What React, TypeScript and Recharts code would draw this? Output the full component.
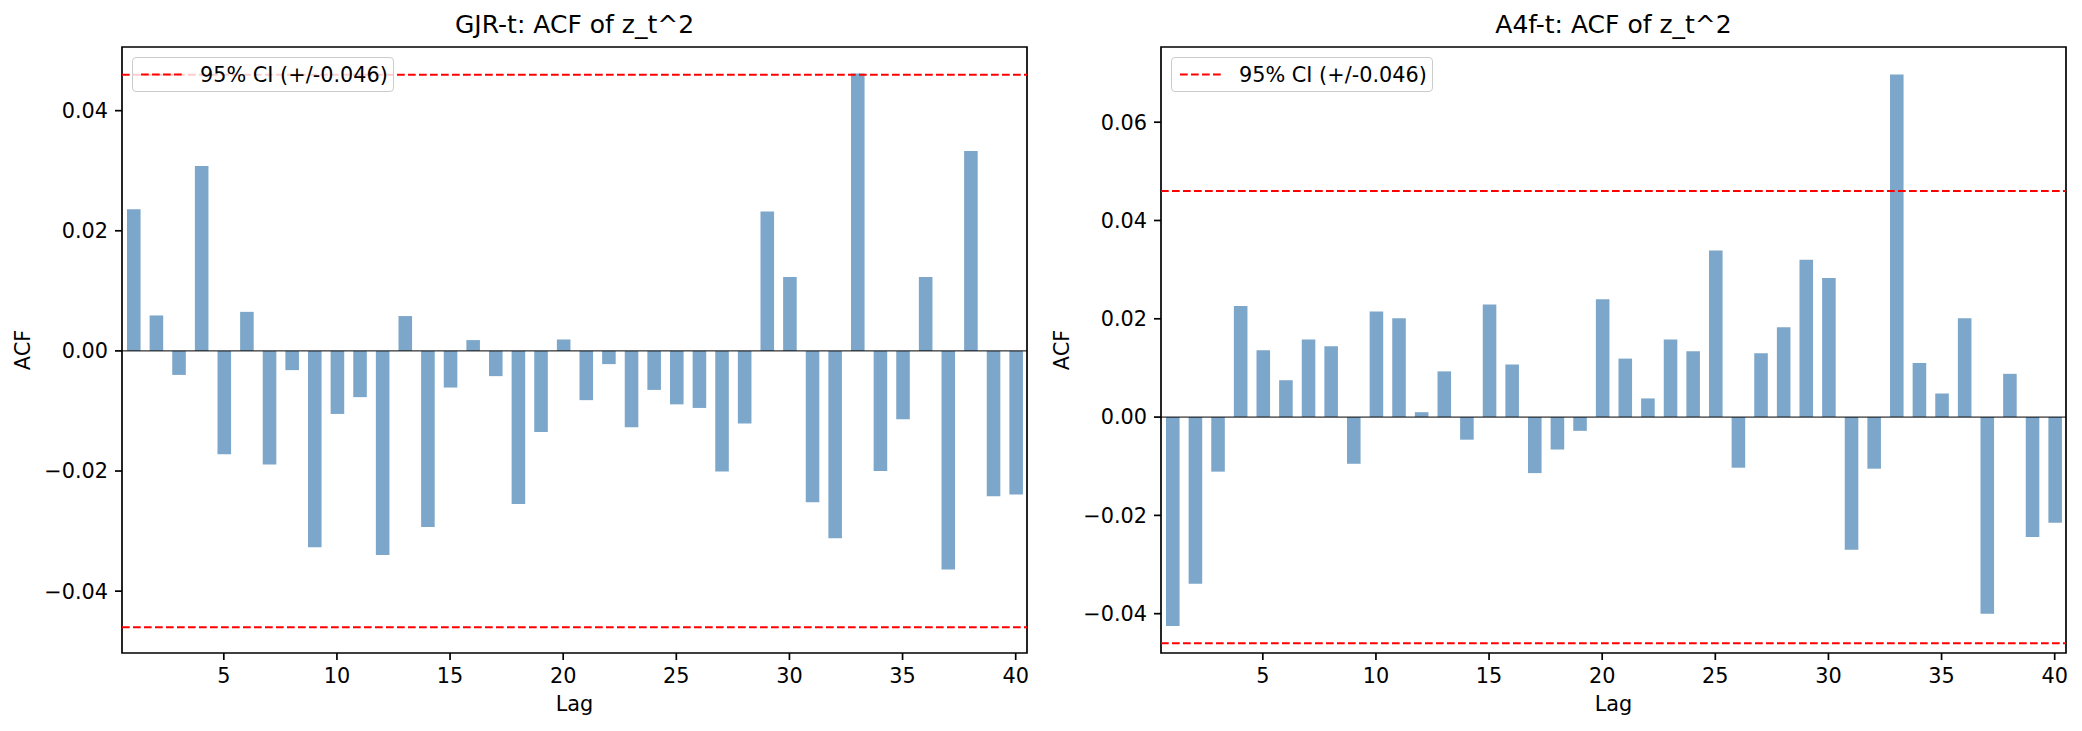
import React from "react";
import { BarChart, Bar, XAxis, YAxis, ReferenceLine, ReferenceArea } from "recharts";

// lag index on the x axis
const LAGS = [
    1, 2, 3, 4, 5, 6, 7, 8, 9, 10, 11, 12, 13, 14, 15, 16, 17, 18, 19, 20,
    21, 22, 23, 24, 25, 26, 27, 28, 29, 30, 31, 32, 33, 34, 35, 36, 37, 38, 39, 40,
];

// ACF of squared standardized residuals, GJR-t model
const GJR_ACF = [
    0.0236, 0.0059, -0.004, 0.0308, -0.0172, 0.0065, -0.0189, -0.0032, -0.0327, -0.0105,
    -0.0077, -0.034, 0.0058, -0.0293, -0.0061, 0.0018, -0.0042, -0.0255, -0.0135, 0.0019,
    -0.0082, -0.0022, -0.0127, -0.0065, -0.0089, -0.0095, -0.0201, -0.0121, 0.0232, 0.0123,
    -0.0252, -0.0312, 0.0462, -0.02, -0.0114, 0.0123, -0.0364, 0.0333, -0.0242, -0.0239,
];

// ACF of squared standardized residuals, A4f-t model
const A4F_ACF = [
    -0.0425, -0.0339, -0.0111, 0.0226, 0.0136, 0.0075, 0.0158, 0.0144, -0.0095, 0.0215,
    0.0201, 0.001, 0.0093, -0.0046, 0.0229, 0.0107, -0.0114, -0.0066, -0.0028, 0.024,
    0.0119, 0.0038, 0.0158, 0.0134, 0.0339, -0.0103, 0.013, 0.0183, 0.032, 0.0283,
    -0.027, -0.0105, 0.0697, 0.011, 0.0048, 0.0201, -0.04, 0.0088, -0.0244, -0.0215,
];

const LAG_TICKS = [5, 10, 15, 20, 25, 30, 35, 40];
const GJR_TICKS = [-0.04, -0.02, 0, 0.02, 0.04];
const A4F_TICKS = [-0.04, -0.02, 0, 0.02, 0.04, 0.06];
const CI = 0.046;
const CI_LABEL = "95% CI (+/-0.046)";

const FIG_W = 2082;
const FIG_H = 731;
const PLOT_TOP = 47;
const PLOT_H = 606;
const X_AXIS_H = FIG_H - PLOT_TOP - PLOT_H;
const FONT = "'DejaVu Sans', sans-serif";
const TICK_FONT = 20.8;

const fmt = (v: number) => (v < 0 ? "\u2212" + Math.abs(v).toFixed(2) : v.toFixed(2));

interface PanelProps {
    left: number;
    width: number;
    plotLeft: number;
    plotRight: number;
    title: string;
    values: number[];
    yDomain: [number, number];
    yTicks: number[];
}

function AcfPanel({ left, width, plotLeft, plotRight, title, values, yDomain, yTicks }: PanelProps) {
    const data = LAGS.map((lag, i) => ({ lag, acf: values[i] }));
    const plotW = plotRight - plotLeft;
    const barSize = (plotW / 40) * 0.6;
    const cx = (plotLeft + plotRight) / 2;
    const cy = PLOT_TOP + PLOT_H / 2;

    return (
        <div style={{ position: "absolute", left, top: 0, width, height: FIG_H }}>
            <BarChart
                width={width}
                height={FIG_H}
                data={data}
                margin={{ top: PLOT_TOP, right: width - plotRight, bottom: 0, left: 0 }}
                style={{ fontFamily: FONT }}
            >
                <XAxis
                    type="number"
                    dataKey="lag"
                    domain={[0.5, 40.5]}
                    ticks={LAG_TICKS}
                    allowDataOverflow
                    height={X_AXIS_H}
                    axisLine={false}
                    tickSize={7}
                    tickMargin={8}
                    tickLine={{ stroke: "#000", strokeWidth: 1.7 }}
                    tick={{ fontSize: TICK_FONT, fill: "#000", fontFamily: FONT }}
                    label={{ value: "Lag", position: "insideBottom", offset: 20, fontSize: TICK_FONT, fill: "#000", fontFamily: FONT }}
                />
                <YAxis
                    type="number"
                    domain={yDomain}
                    ticks={yTicks}
                    allowDataOverflow
                    width={plotLeft}
                    axisLine={false}
                    tickSize={7}
                    tickMargin={7}
                    tickFormatter={fmt}
                    tickLine={{ stroke: "#000", strokeWidth: 1.7 }}
                    tick={{ fontSize: TICK_FONT, fill: "#000", fontFamily: FONT }}
                />
                <Bar dataKey="acf" fill="steelblue" fillOpacity={0.7} barSize={barSize} isAnimationActive={false} />
                <ReferenceLine y={0} stroke="#000" strokeWidth={1} />
                <ReferenceLine y={CI} stroke="red" strokeWidth={2} strokeDasharray="7.7 3.3" />
                <ReferenceLine y={-CI} stroke="red" strokeWidth={2} strokeDasharray="7.7 3.3" />
                <ReferenceArea
                    x1={0.5}
                    x2={40.5}
                    y1={yDomain[0]}
                    y2={yDomain[1]}
                    fill="none"
                    fillOpacity={0}
                    stroke="#000"
                    strokeWidth={1.7}
                />
            </BarChart>

            {/* title and y label */}
            <svg
                width={width}
                height={FIG_H}
                style={{ position: "absolute", left: 0, top: 0, pointerEvents: "none", fontFamily: FONT }}
            >
                <text x={cx} y={33} textAnchor="middle" fontSize={25} fill="#000">
                    {title}
                </text>
                <text
                    x={plotLeft - 92}
                    y={cy}
                    transform={`rotate(-90, ${plotLeft - 92}, ${cy})`}
                    textAnchor="middle"
                    fontSize={TICK_FONT}
                    fill="#000"
                >
                    ACF
                </text>
            </svg>

            {/* legend, upper left */}
            <div
                style={{
                    position: "absolute",
                    left: plotLeft + 10,
                    top: 57,
                    width: 262,
                    height: 35,
                    border: "1.5px solid #cccccc",
                    borderRadius: 4,
                    background: "rgba(255,255,255,0.8)",
                    boxSizing: "border-box",
                }}
            >
                <svg width={262} height={35} style={{ position: "absolute", left: -1.5, top: -1.5, fontFamily: FONT }}>
                    <line x1={9} x2={50} y1={17.5} y2={17.5} stroke="red" strokeWidth={2} strokeDasharray="7.7 3.3" />
                    <text x={68} y={25} fontSize={TICK_FONT} fill="#000">
                        {CI_LABEL}
                    </text>
                </svg>
            </div>
        </div>
    );
}

export default function App() {
    return (
        <div style={{ position: "absolute", left: 0, top: 0, width: FIG_W, height: FIG_H, background: "#fff" }}>
            <AcfPanel
                left={0}
                width={1041}
                plotLeft={122}
                plotRight={1027}
                title="GJR-t: ACF of z_t^2"
                values={GJR_ACF}
                yDomain={[-0.0503, 0.0506]}
                yTicks={GJR_TICKS}
            />
            <AcfPanel
                left={1041}
                width={1041}
                plotLeft={120}
                plotRight={1025}
                title="A4f-t: ACF of z_t^2"
                values={A4F_ACF}
                yDomain={[-0.048, 0.0753]}
                yTicks={A4F_TICKS}
            />
        </div>
    );
}
